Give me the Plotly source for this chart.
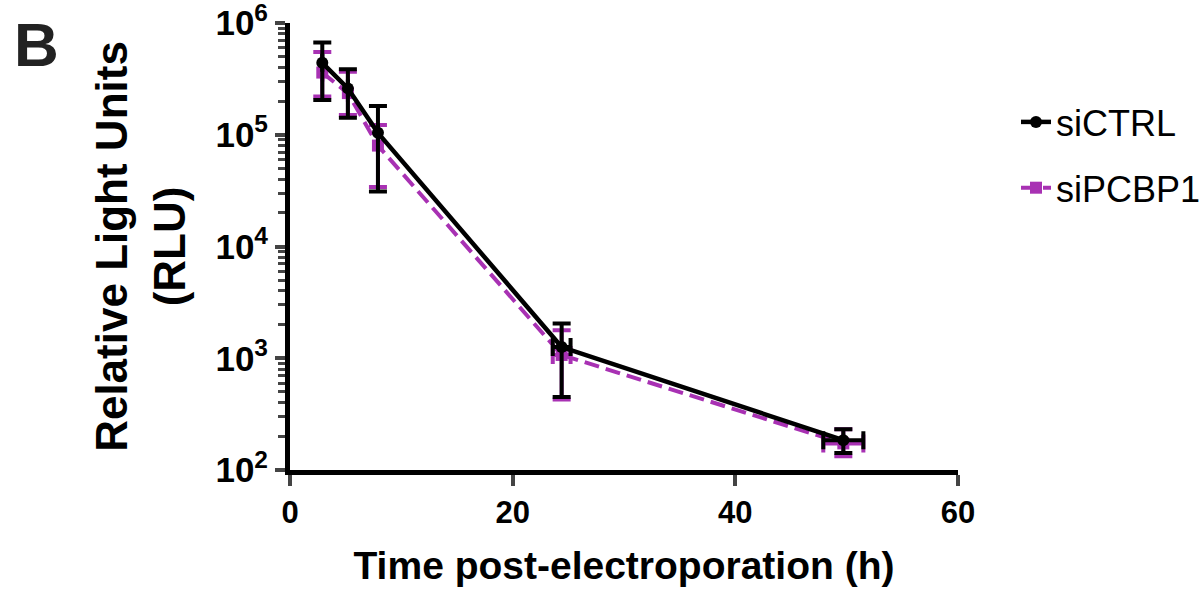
import plotly.graph_objects as go

# ---- data ----
time_h = [2.9, 5.2, 7.9, 24.4, 49.7]
time_err = [0, 0, 0, 0.8, 1.8]

ctrl_mean = [4.4e5, 2.6e5, 1.04e5, 1260, 185]
ctrl_upper = [6.7e5, 3.86e5, 1.81e5, 2046, 231]
ctrl_lower = [2.05e5, 1.42e5, 3.1e4, 451, 142]

pcbp1_mean = [3.6e5, 2.36e5, 8.0e4, 1070, 173]
pcbp1_upper = [5.5e5, 3.66e5, 1.22e5, 1780, 231]
pcbp1_lower = [2.2e5, 1.5e5, 3.4e4, 427, 133]

y_tickvals = [1e2, 1e3, 1e4, 1e5, 1e6]
y_ticktext = ["10<sup>2</sup>", "10<sup>3</sup>", "10<sup>4</sup>", "10<sup>5</sup>", "10<sup>6</sup>"]
x_tickvals = [0, 20, 40, 60]

BLACK = "#000000"
PURPLE = "#A831B3"
FONT = "Liberation Sans, Arial, Helvetica, sans-serif"

# page body margin is removed by post_script, so figure pixels == page pixels
W, H = 1204, 591
L, R, T, B = 290, 958, 23, 470


def plus(up, m):
    return [u - v for u, v in zip(up, m)]


def minus(lo, m):
    return [v - l for l, v in zip(lo, m)]


minor_vals = [k * 10 ** d for d in range(2, 6) for k in range(2, 10)]

fig = go.Figure()

fig.add_trace(go.Scatter(
    x=time_h, y=pcbp1_mean, name="siPCBP1", mode="lines+markers",
    line=dict(color=PURPLE, width=4, dash="15px,7px"),
    marker=dict(symbol="square", size=12, color=PURPLE),
    error_y=dict(type="data", symmetric=False, array=plus(pcbp1_upper, pcbp1_mean),
                 arrayminus=minus(pcbp1_lower, pcbp1_mean), color=PURPLE, thickness=4, width=9),
    error_x=dict(type="data", array=time_err, color=PURPLE, thickness=4, width=9),
    legendrank=2, legendgroup="b",
))

fig.add_trace(go.Scatter(
    x=time_h, y=ctrl_mean, name="siCTRL", mode="lines+markers",
    line=dict(color=BLACK, width=4.5),
    marker=dict(symbol="circle", size=12, color=BLACK),
    error_y=dict(type="data", symmetric=False, array=plus(ctrl_upper, ctrl_mean),
                 arrayminus=minus(ctrl_lower, ctrl_mean), color=BLACK, thickness=4, width=9),
    error_x=dict(type="data", array=time_err, color=BLACK, thickness=4, width=9),
    legendrank=1, legendgroup="a",
))

pw, ph = R - L, B - T

fig.update_layout(
    width=W, height=H,
    margin=dict(l=L, r=W - R, t=T, b=H - B, autoexpand=False),
    paper_bgcolor="white", plot_bgcolor="white",
    font=dict(family=FONT, color="black"),
    showlegend=True,
    legend=dict(x=(1016 - L) / pw, y=(B - 92) / ph, xanchor="left", yanchor="top",
                font=dict(size=36, family=FONT), tracegroupgap=16,
                traceorder="grouped", bgcolor="rgba(0,0,0,0)"),
    annotations=[dict(text="<b>B</b>", x=(12 - L) / pw, y=(B - 44) / ph,
                      xref="paper", yref="paper",
                      xanchor="left", yanchor="middle", showarrow=False,
                      font=dict(size=62, family=FONT, color="#222222"))],
)

fig.update_xaxes(
    range=[0, 60], tickvals=x_tickvals, ticks="outside", ticklen=11, tickwidth=4,
    showline=True, linewidth=5, linecolor="black", showgrid=False, zeroline=False,
    automargin=False,
    tickfont=dict(size=31, family=FONT, weight="bold"),
    title=dict(text="Time post-electroporation (h)", font=dict(size=39, family=FONT, weight="bold"), standoff=24),
)

fig.update_yaxes(
    type="log", range=[2, 6], tickvals=y_tickvals, ticktext=y_ticktext,
    ticks="outside", ticklen=10, tickwidth=4, ticklabeloverflow="allow",
    minor=dict(ticks="outside", ticklen=7, tickwidth=3, tickvals=minor_vals, showgrid=False),
    showline=True, linewidth=5, linecolor="black", showgrid=False, zeroline=False,
    automargin=False,
    tickfont=dict(size=35, family=FONT, weight="bold"),
    title=dict(text="Relative Light Units<br>(RLU)", font=dict(size=44, family=FONT, weight="bold"), standoff=18),
)

fig.write_html("out.html", config={"displayModeBar": False},
               post_script="document.body.style.margin='0px';")
